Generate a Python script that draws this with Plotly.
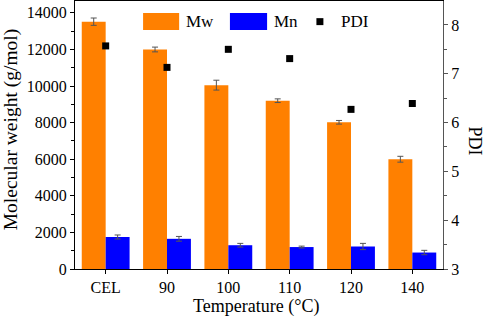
import plotly.graph_objects as go

categories = ["CEL", "90", "100", "110", "120", "140"]
mw = [13520, 12000, 10050, 9200, 8020, 6000]
mw_err = [200, 130, 270, 100, 100, 160]
mn = [1750, 1650, 1300, 1200, 1230, 900]
mn_err = [110, 130, 100, 50, 170, 120]
pdi = [7.57, 7.13, 7.50, 7.31, 6.27, 6.39]

FONT = "Liberation Serif"
ORANGE = "#FF8000"
BLUE = "#0000FF"

fig = go.Figure()
fig.add_trace(go.Bar(x=categories, y=mw, name="Mw", marker=dict(color=ORANGE, line=dict(width=0)),
                     error_y=dict(type="data", array=mw_err, color="#555555", thickness=1, width=3)))
fig.add_trace(go.Bar(x=categories, y=mn, name="Mn", marker=dict(color=BLUE, line=dict(width=0)),
                     error_y=dict(type="data", array=mn_err, color="#555555", thickness=1, width=3)))
fig.add_trace(go.Scatter(x=categories, y=pdi, name="PDI", mode="markers", yaxis="y2",
                         marker=dict(symbol="square", size=7, color="black")))

# custom legend
shapes = [
    dict(type="rect", xref="paper", yref="paper", x0=0.185, x1=0.283, y0=0.892, y1=0.955,
         fillcolor=ORANGE, line=dict(width=0)),
    dict(type="rect", xref="paper", yref="paper", x0=0.421, x1=0.522, y0=0.892, y1=0.955,
         fillcolor=BLUE, line=dict(width=0)),
    dict(type="rect", xref="paper", yref="paper", x0=0.656, x1=0.675, y0=0.910, y1=0.936,
         fillcolor="black", line=dict(width=0)),
]

def txt(s, x, y, size, xanchor="left", angle=0, xref="paper", yref="paper"):
    return dict(text=s, xref=xref, yref=yref, x=x, y=y, xanchor=xanchor, yanchor="middle",
                textangle=angle, showarrow=False, font=dict(family=FONT, size=size, color="black"))

annotations = [
    txt("Mw", 0.297, 0.923, 17),
    txt("Mn", 0.535, 0.923, 17),
    txt("PDI", 0.718, 0.923, 17),
    # axis titles
    txt("Temperature (°C)", 0.492, -0.14, 18, xanchor="center"),
    txt("Molecular weight (g/mol)", -0.175, 0.52, 19.5, xanchor="center", angle=-90),
    txt("PDI", 1.088, 0.478, 18, xanchor="center", angle=90),
]

fig.update_layout(
    width=484, height=319,
    margin=dict(l=75, r=41, t=1, b=50, autoexpand=False),
    paper_bgcolor="white", plot_bgcolor="white",
    barmode="group", bargap=0.22, bargroupgap=0,
    showlegend=False,
    font=dict(family=FONT, size=16, color="black"),
    shapes=shapes, annotations=annotations,
    xaxis=dict(
        range=[-0.5, 5.5], showline=True, linecolor="black", linewidth=1, mirror=True,
        ticks="outside", ticklen=4, tickcolor="black", showgrid=False, automargin=False,
        tickfont=dict(family=FONT, size=16),
    ),
    yaxis=dict(
        range=[0, 14650], showline=True, linecolor="black", linewidth=1, automargin=False,
        ticks="outside", ticklen=4, tickcolor="black", dtick=2000, tickformat="d",
        showgrid=False, zeroline=False,
        minor=dict(ticks="outside", ticklen=3, dtick=1000, tickcolor="black"),
        tickfont=dict(family=FONT, size=16),
    ),
    yaxis2=dict(
        range=[3, 8.49], overlaying="y", side="right", showline=True, linecolor="#555555", linewidth=1,
        ticks="outside", ticklen=4, tickcolor="#555555", dtick=1, showgrid=False, zeroline=False,
        automargin=False,
        minor=dict(ticks="outside", ticklen=3, dtick=0.5, tickcolor="#555555"),
        tickfont=dict(family=FONT, size=16),
    ),
)

fig.write_html("out.html", config={"displayModeBar": False},
               post_script="document.body.style.margin='0';document.body.style.overflow='hidden';")
